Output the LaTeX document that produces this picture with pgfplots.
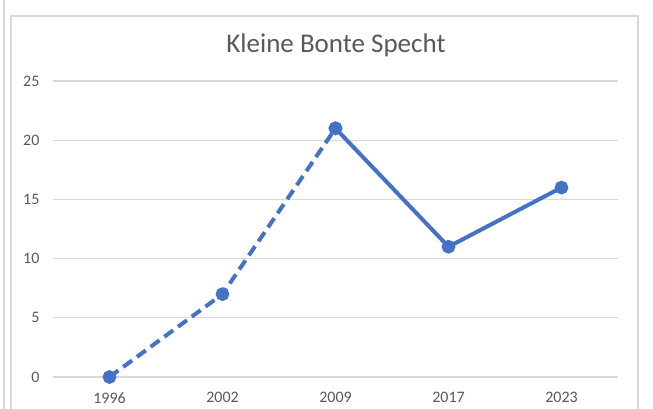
\documentclass[border=0pt]{standalone}
\usepackage{pgfplots}
\pgfplotsset{compat=1.18}
\usepackage{fontspec}
\setmainfont{Carlito}
\definecolor{txt}{HTML}{595959}
\definecolor{gridc}{HTML}{D9D9D9}
\definecolor{framec}{HTML}{D9D9D9}
\definecolor{ser}{HTML}{4472C4}
\begin{document}
\begin{tikzpicture}[x=1pt,y=1pt]
\useasboundingbox (0,0) rectangle (653,409);
\fill[white] (0,0) rectangle (653,409);
\draw[framec,line width=1.2pt] (4,0) -- (4,409);
\draw[framec,line width=1.2pt] (11,-2) -- (11,393) -- (638,393) -- (638,-2);
\node[text=txt,font=\fontsize{27}{31}\selectfont] at (336,364) {Kleine Bonte Specht};
\begin{axis}[
  at={(53pt,32pt)}, anchor=south west,
  scale only axis, width=565pt, height=296pt,
  xmin=-0.5, xmax=4.5, ymin=0, ymax=25,
  axis line style={draw=none},
  xtick={0,1,2,3,4},
  xticklabels={1996,2002,2009,2017,2023},
  ytick={0,5,10,15,20,25},
  xmajorgrids=false,
  ymajorgrids=true,
  grid style={draw=gridc, line width=1.1pt},
  major tick length=0pt,
  tick label style={text=txt, font=\fontsize{16}{19}\selectfont},
  /pgf/number format/assume math mode=true,
  yticklabel style={xshift=-10pt},
  xticklabel style={yshift=-12pt},
  clip=false,
]
\addplot[ser, line width=4pt, dash pattern=on 11pt off 6pt, mark=*, mark size=4.8pt, mark options={solid, fill=ser, draw=none}]
  coordinates {(0,0) (1,7) (2,21)};
\addplot[ser, line width=4pt, mark=*, mark size=4.8pt, mark options={solid, fill=ser, draw=none}]
  coordinates {(2,21) (3,11) (4,16)};
\end{axis}
\end{tikzpicture}
\end{document}
